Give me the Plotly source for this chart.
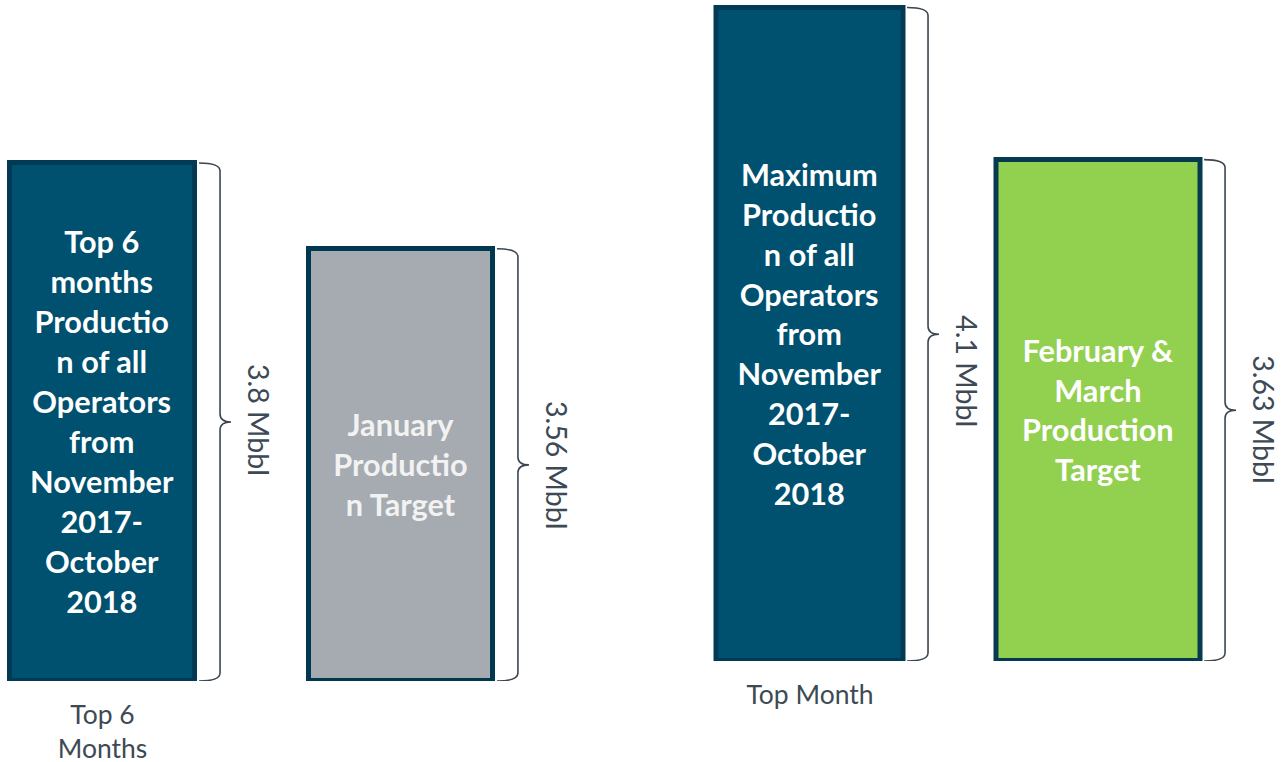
import plotly.graph_objects as go

# ---- data -------------------------------------------------------------
GROUP_NAMES = ["Top 6<br>Months", "Top Month"]

LEFT_VALUES = [3.8, 3.56]
LEFT_TEXT = [
    "Top 6<br>months<br>Productio<br>n of all<br>Operators<br>from<br>November<br>2017-<br>October<br>2018",
    "January<br>Productio<br>n Target",
]

RIGHT_VALUES = [4.1, 3.63]
RIGHT_TEXT = [
    "Maximum<br>Productio<br>n of all<br>Operators<br>from<br>November<br>2017-<br>October<br>2018",
    "February &<br>March<br>Production<br>Target",
]
UNIT = "Mbbl"

# ---- styling ----------------------------------------------------------
W, H = 1283, 762
NAVY = "#00506F"
NAVY_EDGE = "#003A55"
GREY = "#A5ABB0"
GREEN = "#92D050"
INK = "#3D4A55"
FONT = "Lato"

LEFT_FILL = [NAVY, GREY]
LEFT_EDGE = [NAVY_EDGE, "#00394F"]
LEFT_FONT = ["#FFFFFF", "#F2F2F2"]
RIGHT_FILL = [NAVY, GREEN]
RIGHT_EDGE = [NAVY_EDGE, "#063A50"]
RIGHT_FONT = ["#FFFFFF", "#FFFFFF"]

LEFT_WIDTH = [0.62, 0.616]
RIGHT_WIDTH = [0.645, 0.704]

# vertical nudge (px) of each value label relative to its brace tip
LEFT_LABEL_SHIFT = [2, -1]
RIGHT_LABEL_SHIFT = [-37, -9]

# axis windows (each panel has its own truncated value axis)
L_XDOM, L_XRANGE = [0.0, 0.5], [-0.3434, 1.8057]
R_XDOM, R_XRANGE = [0.5, 1.0], [-0.584, 1.6395]
L_YDOM, L_YRANGE = [1 - 681 / H, 1.0], [2.35, 2.35 + 681 / 357.2]
R_YDOM, R_YRANGE = [1 - 661 / H, 1.0], [2.08, 2.08 + 661 / 323.5]


def px_per_unit(dom, rng, total):
    return (dom[1] - dom[0]) * total / (rng[1] - rng[0])


fig = go.Figure()
shapes, annotations = [], []


def add_panel(values, texts, fills, edges, fonts, widths, shifts,
              xa, ya, xdom, xrng, ydom, yrng):
    base = yrng[0]
    xs = list(range(len(values)))
    fig.add_trace(go.Bar(
        x=xs,
        y=[v - base for v in values],
        base=base,
        width=widths,
        marker=dict(color=fills, line=dict(color=edges, width=5)),
        text=texts,
        textposition="inside",
        insidetextanchor="middle",
        textangle=0,
        constraintext="none",
        textfont=dict(family=FONT, size=30.7, color=fonts, weight="bold"),
        hoverinfo="skip",
        xaxis=xa, yaxis=ya,
    ))
    kx = px_per_unit(xdom, xrng, W)
    ky = px_per_unit(ydom, yrng, H)
    for xi, v, w, s in zip(xs, values, widths, shifts):
        edge = xi + w / 2
        xl = edge + 4 / kx
        xv = edge + 25 / kx
        xt = xv + 11 / kx
        r = 8 / ky
        top, bot = v, base
        mid = (top + bot) / 2
        path = (
            f"M {xl},{top} Q {xv},{top} {xv},{top - r} "
            f"L {xv},{mid + r} Q {xv},{mid} {xt},{mid} "
            f"Q {xv},{mid} {xv},{mid - r} "
            f"L {xv},{bot + r} Q {xv},{bot} {xl},{bot}"
        )
        shapes.append(dict(type="path", path=path, xref=xa, yref=ya,
                           line=dict(color="#3B4651", width=1.6)))
        annotations.append(dict(
            x=xv, y=mid, xref=xa, yref=ya, xshift=39, yshift=s,
            text=f"{v} {UNIT}", textangle=90, showarrow=False,
            xanchor="center", yanchor="middle",
            font=dict(family=FONT, size=28.5, color=INK),
        ))


add_panel(LEFT_VALUES, LEFT_TEXT, LEFT_FILL, LEFT_EDGE, LEFT_FONT, LEFT_WIDTH,
          LEFT_LABEL_SHIFT, "x", "y", L_XDOM, L_XRANGE, L_YDOM, L_YRANGE)
add_panel(RIGHT_VALUES, RIGHT_TEXT, RIGHT_FILL, RIGHT_EDGE, RIGHT_FONT, RIGHT_WIDTH,
          RIGHT_LABEL_SHIFT, "x2", "y2", R_XDOM, R_XRANGE, R_YDOM, R_YRANGE)

axis_common = dict(showgrid=False, zeroline=False, showline=False, ticks="",
                   automargin=False)
tick_font = dict(family=FONT, size=26.5, color=INK)

fig.update_layout(
    width=W, height=H,
    margin=dict(l=0, r=0, t=0, b=0),
    paper_bgcolor="white", plot_bgcolor="white",
    showlegend=False,
    bargap=0,
    xaxis=dict(domain=L_XDOM, range=L_XRANGE, anchor="y", tickvals=[0],
               ticktext=[GROUP_NAMES[0]], tickfont=tick_font,
               ticklabelstandoff=15, **axis_common),
    yaxis=dict(domain=L_YDOM, range=L_YRANGE, anchor="x", visible=False,
               automargin=False),
    xaxis2=dict(domain=R_XDOM, range=R_XRANGE, anchor="y2", tickvals=[0],
                ticktext=[GROUP_NAMES[1]], tickfont=tick_font,
                ticklabelstandoff=15, **axis_common),
    yaxis2=dict(domain=R_YDOM, range=R_YRANGE, anchor="x2", visible=False,
                automargin=False),
    shapes=shapes,
    annotations=annotations,
)

fig.write_html("out.html")
